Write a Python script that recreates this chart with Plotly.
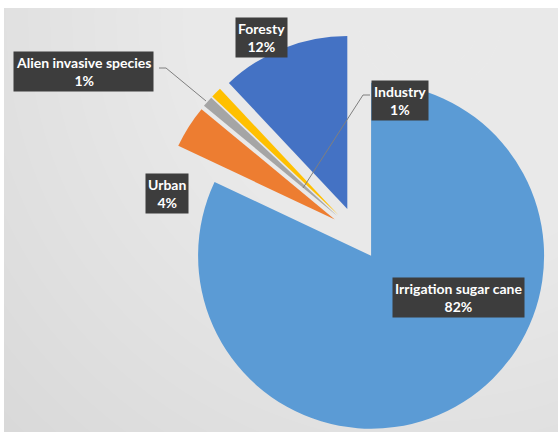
import plotly.graph_objects as go

# ---- data ----
labels = ["Irrigation sugar cane", "Urban", "Industry", "Alien invasive species", "Foresty"]
values = [82, 4, 1, 1, 12]
colors = ["#5B9BD5", "#ED7D31", "#A5A5A5", "#FFC000", "#4472C4"]

# ---- layout helpers (page pixels -> paper) ----
W, H = 558, 434
def px(x):
    return x / W
def py(y):
    return 1 - y / H

CX, CY, R, PULL = 357, 233.5, 173, 0.152
HALF = R * (1 + PULL)

def clip(v):
    return max(0.0, min(1.0, v))

fig = go.Figure(go.Pie(
    labels=labels, values=values, sort=False, direction="clockwise", rotation=0,
    pull=[PULL] * len(values),
    marker=dict(colors=colors, line=dict(width=0)),
    textinfo="none", showlegend=False,
    domain=dict(x=[clip(px(CX - HALF)), clip(px(CX + HALF))],
                y=[clip(py(CY + HALF)), clip(py(CY - HALF))]),
))

# ---- background gradient (decoration) ----
shapes = [dict(type="rect", xref="paper", yref="paper", x0=px(4), x1=1, y0=py(432), y1=py(8),
               fillcolor="#d8d8d8", line=dict(width=0), layer="below")]
gx, gy = 430, 20
for r in range(600, 30, -22):
    shapes.append(dict(type="circle", xref="paper", yref="paper",
                       x0=px(gx - r), x1=px(gx + r), y0=py(gy + r), y1=py(gy - r),
                       fillcolor="rgba(255,255,255,0.045)", line=dict(width=0), layer="below"))
for (x0, y0, x1, y1) in [(0, 0, W, 8), (0, 0, 4, H), (0, 432, W, H)]:
    shapes.append(dict(type="rect", xref="paper", yref="paper", x0=px(x0), x1=px(x1),
                       y0=py(y1), y1=py(y0), fillcolor="white", line=dict(width=0), layer="below"))

# leader lines
leaders = {
    "Alien invasive species": [(159, 68), (166, 68), (206, 101)],
    "Industry": [(370, 95), (363, 95), (303, 188)],
}
for pts in leaders.values():
    path = "M " + " L ".join(f"{px(x)},{py(y)}" for x, y in pts)
    shapes.append(dict(type="path", xref="paper", yref="paper", path=path,
                       line=dict(color="#7f7f7f", width=1), layer="above"))

# ---- data labels ----
label_pos = {
    "Irrigation sugar cane": (458, 297),
    "Urban": (167, 193),
    "Industry": (400, 100),
    "Alien invasive species": (83, 72),
    "Foresty": (261, 38),
}
total = sum(values)
annotations = []
for lab, v in zip(labels, values):
    x, y = label_pos[lab]
    annotations.append(dict(
        x=px(x), y=py(y), xref="paper", yref="paper", xanchor="center", yanchor="middle",
        text=f"<b>{lab}<br>{round(v / total * 100)}%</b>", showarrow=False,
        font=dict(family="Lato", size=14, color="white"),
        bgcolor="#3d3d3d", borderpad=2, align="center",
    ))

fig.update_layout(
    width=W, height=H, margin=dict(l=0, r=0, t=0, b=0),
    paper_bgcolor="white", plot_bgcolor="white",
    shapes=shapes, annotations=annotations,
)

fig.write_html("out.html")
